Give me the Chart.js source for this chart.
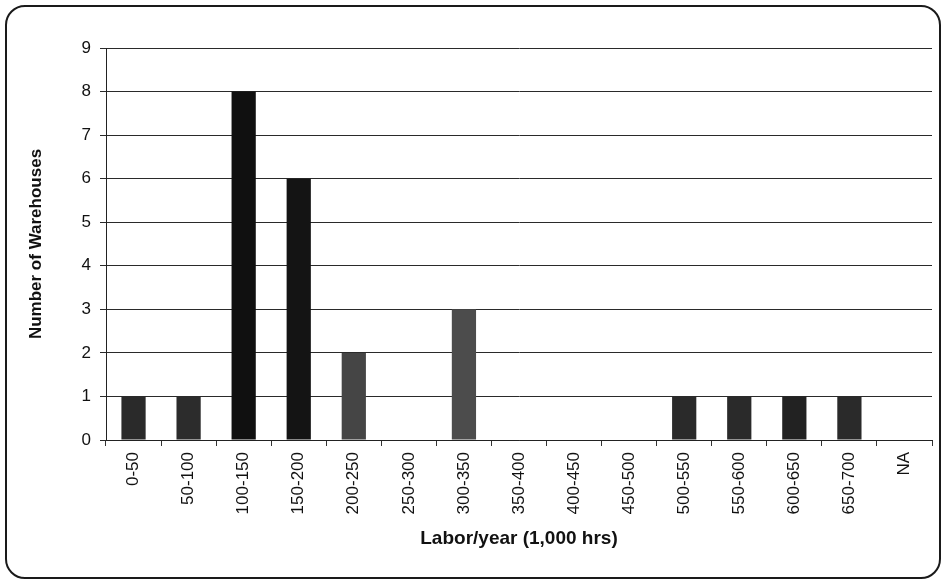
<!DOCTYPE html>
<html>
<head>
<meta charset="utf-8">
<script src="https://cdn.jsdelivr.net/npm/chart.js@4"></script>
<style>
  html, body { margin: 0; padding: 0; background: #fff; }
  #frame { position: absolute; left: 5px; top: 5px; border: 2px solid #1a1a1a; border-radius: 20px; box-sizing: border-box; width: 936px; height: 574px; }
  #wrap { position: absolute; left: 0; top: 0; width: 946px; height: 582px; }
</style>
</head>
<body>
<div id="frame"></div>
<div id="wrap"><canvas id="c" width="946" height="582"></canvas></div>
<script>
const categories = ['0-50','50-100','100-150','150-200','200-250','250-300','300-350','350-400','400-450','450-500','500-550','550-600','600-650','650-700','NA'];
const warehouses = [1, 1, 8, 6, 2, 0, 3, 0, 0, 0, 1, 1, 1, 1, 0];
const yTicks = [0, 1, 2, 3, 4, 5, 6, 7, 8, 9];

const barColors = ['#2a2a2a','#2c2c2c','#101010','#141414','#454545','#303030','#4c4c4c','#303030','#303030','#303030','#2a2a2a','#2a2a2a','#222222','#2a2a2a','#303030'];

new Chart(document.getElementById('c'), {
  type: 'bar',
  data: {
    labels: categories,
    datasets: [{
      data: warehouses,
      backgroundColor: barColors,
      borderWidth: 0,
      categoryPercentage: 1.0,
      barPercentage: 0.44
    }]
  },
  options: {
    responsive: false,
    animation: false,
    layout: { padding: { top: 48, right: 14, left: 0, bottom: 0 } },
    plugins: { legend: { display: false }, tooltip: { enabled: false } },
    scales: {
      x: {
        grid: { display: true, drawOnChartArea: false, drawTicks: true, tickLength: 6, color: '#333', offset: true },
        border: { display: true, color: '#222', width: 1 },
        ticks: { color: '#111', font: { family: 'Liberation Sans, Arial', size: 17 }, minRotation: 90, maxRotation: 90, padding: 6, autoSkip: false },
        title: { display: true, text: 'Labor/year (1,000 hrs)', color: '#111', font: { family: 'Liberation Sans, Arial', size: 19, weight: 'bold' }, padding: { top: 4, bottom: 32 } },
        afterFit: s => { s.height = 142; }
      },
      y: {
        min: 0, max: 9,
        afterBuildTicks: s => { s.ticks = yTicks.map(v => ({ value: v })); },
        grid: { color: '#2a2a2a', lineWidth: 1, tickLength: 6, drawTicks: true },
        border: { display: true, color: '#222', width: 1 },
        ticks: { color: '#111', font: { family: 'Liberation Sans, Arial', size: 17 }, padding: 9 },
        title: { display: true, text: 'Number of Warehouses', color: '#111', font: { family: 'Liberation Sans, Arial', size: 17, weight: 'bold' }, padding: { top: 26, bottom: 0 } },
        afterFit: s => { s.width = 106; }
      }
    }
  }
});
</script>
</body>
</html>
